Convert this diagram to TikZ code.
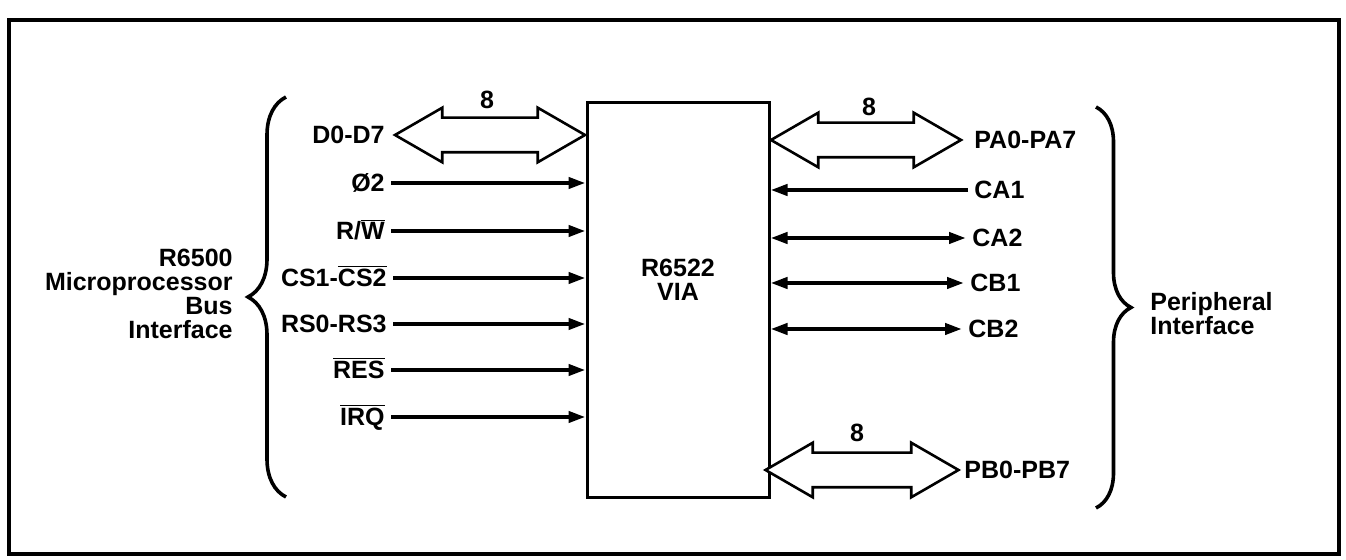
\documentclass[tikz,border=0pt]{standalone}
\usepackage{fontspec}
\setmainfont{Liberation Sans}
\usetikzlibrary{arrows.meta, positioning, shapes.arrows, decorations.pathreplacing}
\newcommand{\ovl}[1]{$\overline{\hbox{#1}}$}
\tikzset{
	chipblock/.style={
		rectangle, draw=black, line width=1.5pt,
		minimum width=91pt, minimum height=197.5pt, inner sep=0pt
	},
	siglabel/.style={
		font=\fontsize{12.5}{12}\selectfont\bfseries,
		inner sep=3pt, text height=9pt, text depth=0pt
	},
	grouplabel/.style={
		font=\fontsize{12.5}{12}\selectfont\bfseries, inner sep=0pt
	},
	sigarrow/.style={
		-{Triangle[length=8.5pt, width=5.5pt]}, line width=2pt
	},
	dblsigarrow/.style={
		{Triangle[length=8.5pt, width=5.5pt]}-{Triangle[length=8.5pt, width=5.5pt]},
		line width=2pt
	},
	busarrow/.style={
		shape=double arrow, draw=black, fill=white, line width=1.3pt,
		double arrow head extend=5pt, double arrow tip angle=60,
		minimum height=95pt, inner xsep=0pt, inner ysep=8pt,
		text height=0pt, text depth=0pt
	},
	busbrace/.style={
		decorate, decoration={brace, amplitude=#1}, line width=1.8pt
	},
	framebox/.style={draw=black, line width=2pt}
}

\begin{document}
\begin{tikzpicture}[x=0.5pt, y=-0.5pt]
		\useasboundingbox (0,0) rectangle (1346,560);
		\draw[framebox] (9,20) rectangle (1339,554);
		
		%% ═══════════════════════════════
		%%  VIA CHIP
		%% ═══════════════════════════════
		\node[chipblock] (via) at (678,300) {};
		\node[grouplabel, align=center] (vianame) at (678,280) {R6522\\VIA};
		
		%% ═══════════════════════════════
		%%  BUS SIDE (left)
		%% ═══════════════════════════════
		\node[siglabel, anchor=east] (dlbl) at (391,135) {D0-D7};
		\node[siglabel, anchor=east] (phi)  at (391,183) {Ø2};
		\node[siglabel, anchor=east] (rw)   at (391,231) {R/\ovl{W}};
		\node[siglabel, anchor=east] (cs)   at (393,278) {CS1-\ovl{CS2}};
		\node[siglabel, anchor=east] (rs)   at (393,324) {RS0-RS3};
		\node[siglabel, anchor=east] (res)  at (391,370) {\ovl{RES}};
		\node[siglabel, anchor=east] (irq)  at (391,417) {\ovl{IRQ}};
		
		\node[busarrow] (dbus) at (490,135) {};
		\node[siglabel] (dwidth) at (487,100) {8};
		
		\node[grouplabel, align=right, anchor=east] (cpulbl) at (233,294)
		{R6500\\Microprocessor\\Bus\\Interface};
		
		%% ═══════════════════════════════
		%%  PERIPHERAL SIDE (right)
		%% ═══════════════════════════════
		\node[siglabel, anchor=west] (palbl) at (968,140) {PA0-PA7};
		\node[siglabel, anchor=west] (ca1)   at (968,190) {CA1};
		\node[siglabel, anchor=west] (ca2)   at (966,238) {CA2};
		\node[siglabel, anchor=west] (cb1)   at (964,283) {CB1};
		\node[siglabel, anchor=west] (cb2)   at (962,329) {CB2};
		\node[siglabel, anchor=west] (pblbl) at (958,470) {PB0-PB7};
		
		\node[busarrow] (pabus) at (866,140) {};
		\node[siglabel] (pawidth) at (869,107) {8};
		\node[busarrow, minimum height=96.5pt] (pbbus) at (862,470) {};
		\node[siglabel] (pbwidth) at (857,433) {8};
		
		\node[grouplabel, align=left, anchor=west] (perlbl) at (1150,314)
		{Peripheral\\Interface};
		
		%% ═══════════════════════════════
		%%  ARROWS
		%% ═══════════════════════════════
		
		% Bus → VIA
		\draw[sigarrow] (phi.east) -- (via.west |- phi.east);
		\draw[sigarrow] (rw.east)  -- (via.west |- rw.east);
		\draw[sigarrow] (cs.east)  -- (via.west |- cs.east);
		\draw[sigarrow] (rs.east)  -- (via.west |- rs.east);
		\draw[sigarrow] (res.east) -- (via.west |- res.east);
		\draw[sigarrow] (irq.east) -- (via.west |- irq.east);
		
		% Peripheral ↔ VIA
		\draw[sigarrow] (ca1.west) -- (via.east |- ca1.west);
		\draw[dblsigarrow] (via.east |- ca2.west) -- (ca2.west);
		\draw[dblsigarrow] (via.east |- cb1.west) -- (cb1.west);
		\draw[dblsigarrow] (via.east |- cb2.west) -- (cb2.west);
		
		%% ═══════════════════════════════
		%%  BRACES
		%% ═══════════════════════════════
		\draw[busbrace=19pt]   (286,497) -- (286,97);
		\draw[busbrace=17.5pt] (1096,107) -- (1096,508);
	\end{tikzpicture}
\end{document}
